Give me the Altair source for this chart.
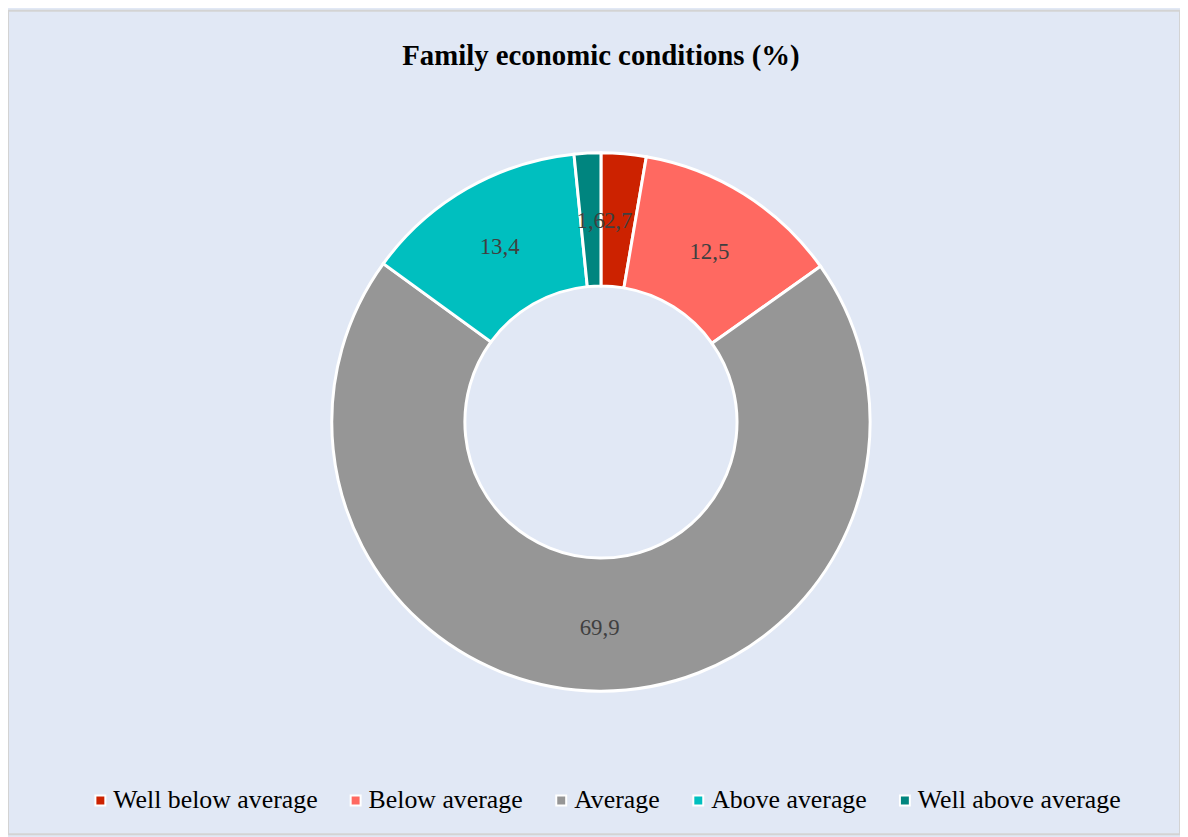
import altair as alt
import pandas as pd

categories = ["Well below average", "Below average", "Average", "Above average", "Well above average"]
values = [2.7, 12.5, 69.9, 13.4, 1.6]
colors = ["#CC2200", "#FF6961", "#969696", "#00BFBF", "#00857F"]
title_text = "Family economic conditions (%)"

df = pd.DataFrame({
    "category": categories,
    "value": values,
    "order": list(range(len(categories))),
    "label": [f"{v:.1f}".replace(".", ",") for v in values],
})

W, H = 1180, 829
CX, CY = 597, 414
SERIF = "Liberation Serif, Times New Roman, serif"

color = alt.Color(
    "category:N",
    scale=alt.Scale(domain=categories, range=colors),
    sort=categories,
    legend=alt.Legend(
        title=None, orient="none", direction="horizontal",
        legendX=80, legendY=782,
        symbolType="square", symbolSize=100,
        symbolStrokeColor="white", symbolStrokeWidth=2, symbolOpacity=1,
        labelFont=SERIF, labelFontSize=26, labelColor="#000000",
        labelOffset=0, columnPadding=25, labelLimit=400,
    ),
)

base = alt.Chart(df).encode(
    theta=alt.Theta("value:Q", stack=True),
    order=alt.Order("order:Q"),
)

arcs = base.mark_arc(outerRadius=271, innerRadius=137, stroke="white", strokeWidth=3).encode(
    color=color, x=alt.value(CX), y=alt.value(CY)
)

labels = base.mark_text(radius=205, font=SERIF, fontSize=23, color="#404040").encode(
    text="label:N", x=alt.value(CX), y=alt.value(CY + 2)
)

title = alt.Chart(pd.DataFrame({"t": [title_text]})).mark_text(
    font=SERIF, fontSize=29, fontWeight="bold", color="#000000"
).encode(text="t:N", x=alt.value(CX), y=alt.value(46))

chart = alt.layer(arcs, labels, title).properties(
    width=W, height=H, padding=0,
    autosize=alt.AutoSizeParams(type="none"),
    background="#E1E8F5",
).configure_view(stroke="#D3D3D3", strokeWidth=2, fill="#E1E8F5")

chart.save("out.html", embed_options={"renderer": "svg", "actions": False})
